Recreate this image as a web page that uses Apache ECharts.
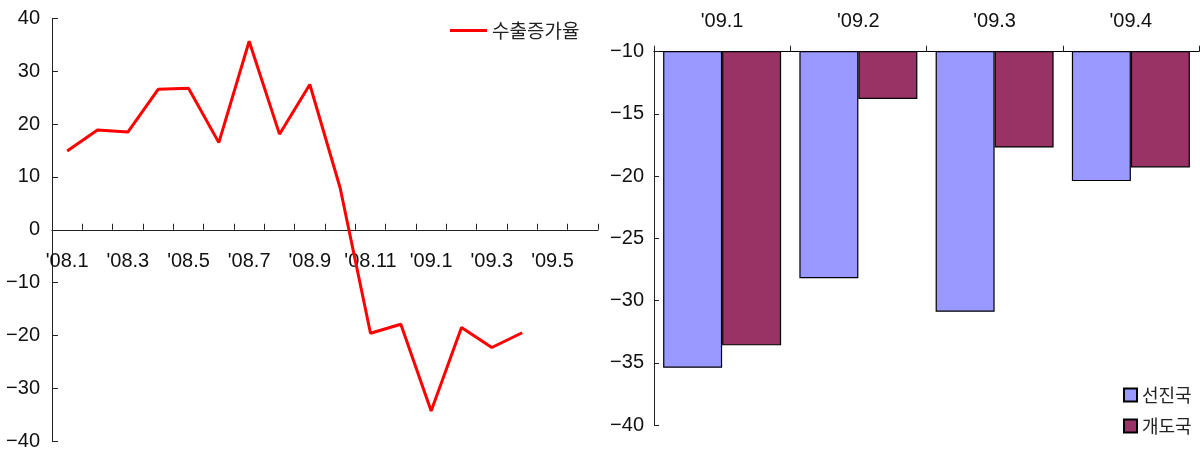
<!DOCTYPE html>
<html>
<head>
<meta charset="utf-8">
<script src="https://cdn.jsdelivr.net/npm/echarts@6/dist/echarts.min.js"></script>
<style>
  html, body { margin: 0; padding: 0; background: #fff; }
  #chart { width: 1200px; height: 450px; }
</style>
</head>
<body>
<div id="chart"></div>
<script>
// Monthly export growth (%), Jan 2008 – Jun 2009
const months = ["'08.1", "'08.2", "'08.3", "'08.4", "'08.5", "'08.6", "'08.7", "'08.8", "'08.9",
  "'08.10", "'08.11", "'08.12", "'09.1", "'09.2", "'09.3", "'09.4", "'09.5", "'09.6"];
const exportGrowth = [14.9, 18.9, 18.5, 26.6, 26.8, 16.5, 35.7, 18.1, 27.5,
  7.9, -19.6, -17.9, -34.3, -18.5, -22.3, -19.5, null, null];

// Imports by partner group (%), 2009 monthly
const importMonths = ["'09.1", "'09.2", "'09.3", "'09.4"];
const advanced = [-35.4, -28.2, -30.9, -20.4];
const developing = [-33.6, -13.8, -17.7, -19.3];

const lineName = '수출증가율';
const advName = '선진국';
const devName = '개도국';

const numFont = "'Liberation Sans', Arial, sans-serif";
const krFont = "'Noto Sans CJK KR', sans-serif";
const axisColor = '#222';
const minus = v => String(v).replace('-', '\u2212');

// left panel value range; the month axis sits on the zero line
const growthMin = -40, growthMax = 40;
const leftGrid = { left: 52, top: 18.5, width: 546, height: 422.5 };
const zeroOffset = -leftGrid.height * (0 - growthMin) / (growthMax - growthMin);

const chart = echarts.init(document.getElementById('chart'), null, { renderer: 'canvas' });

chart.setOption({
  animation: false,
  backgroundColor: '#fff',
  legend: [
    {
      data: [{ name: lineName, icon: 'rect' }],
      left: 445, top: 16,
      itemWidth: 37, itemHeight: 3,
      textStyle: { fontFamily: krFont, fontSize: 19, color: '#222' }
    },
    {
      data: [advName, devName],
      orient: 'vertical',
      left: 1118, top: 381,
      itemWidth: 13, itemHeight: 13, itemGap: 13,
      icon: 'rect',
      textStyle: { fontFamily: krFont, fontSize: 18, color: '#222' }
    }
  ],
  grid: [
    Object.assign({ outerBoundsMode: 'none', containLabel: false }, leftGrid),
    { left: 654, top: 51.7, width: 545, height: 373.3, outerBoundsMode: 'none', containLabel: false }
  ],
  xAxis: [
    {
      gridIndex: 0,
      type: 'category',
      data: months,
      position: 'bottom',
      offset: zeroOffset,
      boundaryGap: true,
      axisLine: { onZero: false, lineStyle: { color: axisColor, width: 1 } },
      axisTick: { show: true, inside: true, length: 6, interval: 0, lineStyle: { color: axisColor, width: 1 } },
      axisLabel: {
        interval: 1, margin: 22,
        fontFamily: numFont, fontSize: 20, color: '#111'
      },
      splitLine: { show: false }
    },
    {
      gridIndex: 1,
      type: 'category',
      position: 'top',
      data: importMonths,
      boundaryGap: true,
      axisLine: { lineStyle: { color: '#000', width: 1 } },
      axisTick: { show: true, inside: false, length: 6, interval: 0, lineStyle: { color: axisColor, width: 1 } },
      axisLabel: {
        interval: 0, margin: 20,
        fontFamily: numFont, fontSize: 20, color: '#111'
      },
      splitLine: { show: false }
    }
  ],
  yAxis: [
    {
      gridIndex: 0,
      type: 'value',
      min: growthMin, max: growthMax, interval: 10,
      axisLine: { show: true, lineStyle: { color: axisColor, width: 1 } },
      axisTick: { show: true, inside: true, length: 6, lineStyle: { color: axisColor, width: 1 } },
      axisLabel: {
        margin: 12, formatter: minus,
        fontFamily: numFont, fontSize: 20, color: '#111'
      },
      splitLine: { show: false }
    },
    {
      gridIndex: 1,
      type: 'value',
      min: -40, max: -10, interval: 5,
      axisLine: { show: true, lineStyle: { color: axisColor, width: 1 } },
      axisTick: { show: true, inside: true, length: 5, lineStyle: { color: axisColor, width: 1 } },
      axisLabel: {
        margin: 10, formatter: minus,
        fontFamily: numFont, fontSize: 20, color: '#111'
      },
      splitLine: { show: false }
    }
  ],
  series: [
    {
      name: lineName,
      type: 'line',
      xAxisIndex: 0, yAxisIndex: 0,
      data: exportGrowth,
      symbol: 'none',
      color: '#ff0000',
      lineStyle: { color: '#ff0000', width: 3 }
    },
    {
      name: advName,
      type: 'bar',
      xAxisIndex: 1, yAxisIndex: 1,
      data: advanced,
      clip: true,
      barGap: '0%',
      barCategoryGap: '13.4%',
      color: '#9999ff',
      itemStyle: { color: '#9999ff', borderColor: '#000', borderWidth: 1.2 }
    },
    {
      name: devName,
      type: 'bar',
      xAxisIndex: 1, yAxisIndex: 1,
      data: developing,
      clip: true,
      barGap: '0%',
      barCategoryGap: '13.4%',
      color: '#993366',
      itemStyle: { color: '#993366', borderColor: '#000', borderWidth: 1.2 }
    }
  ]
});
</script>
</body>
</html>
